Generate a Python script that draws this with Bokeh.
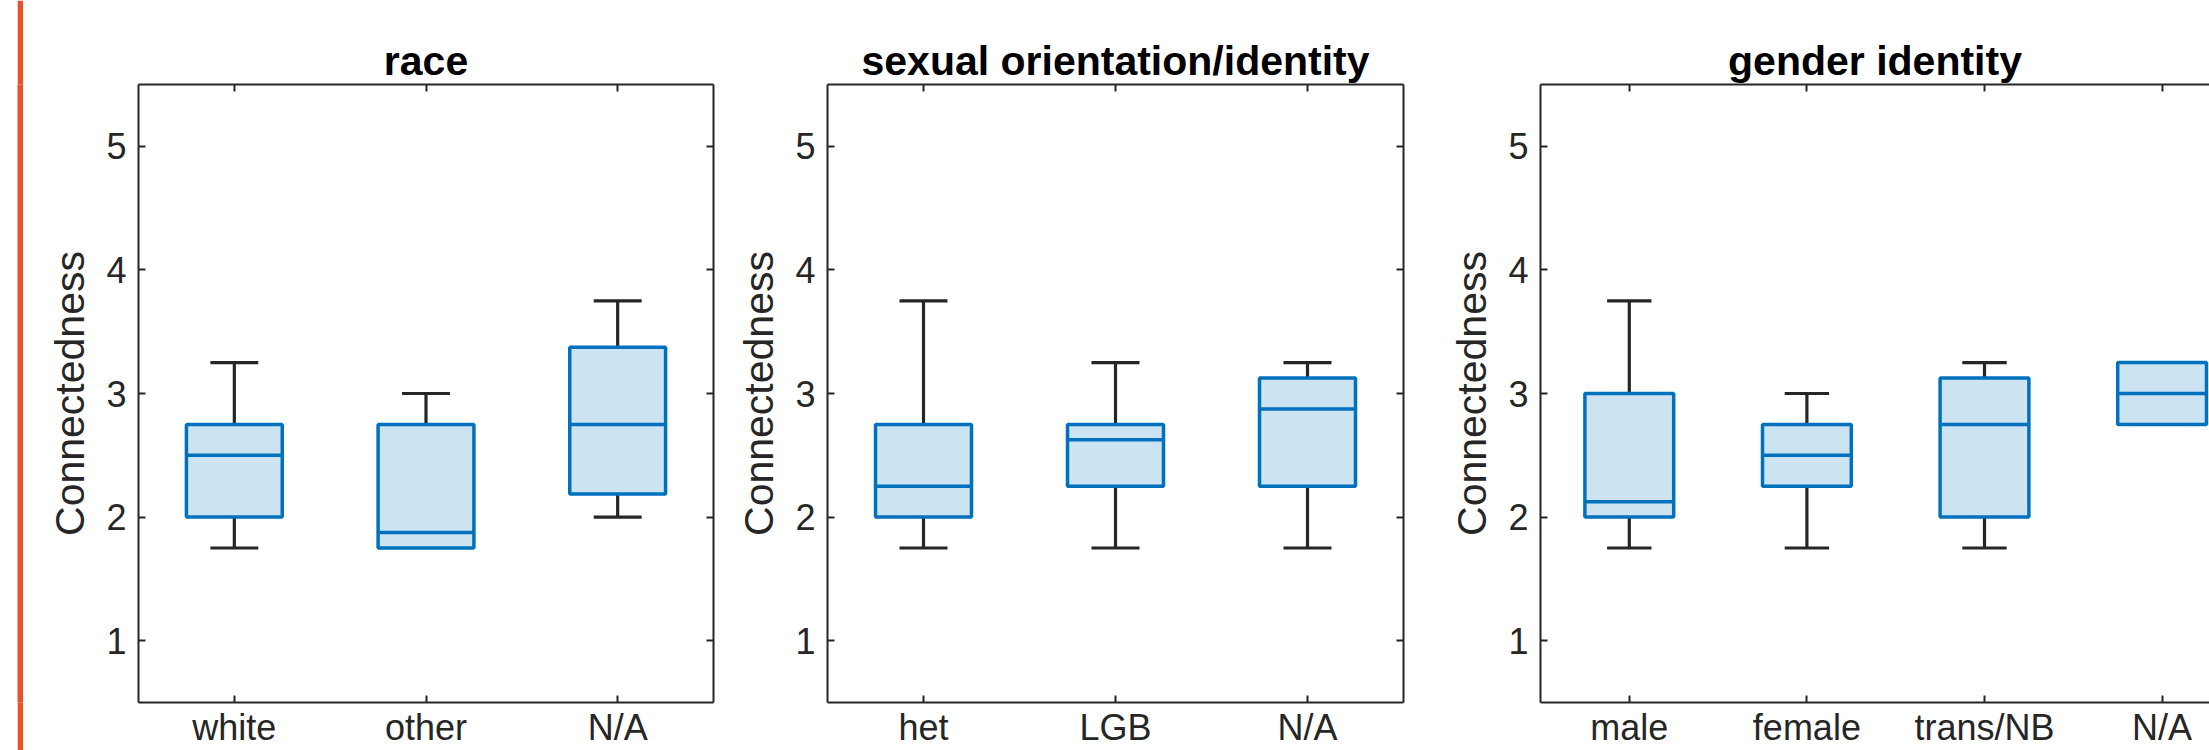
from bokeh.plotting import figure
from bokeh.models import FixedTicker, LinearAxis, Range1d, Spacer
from bokeh.layouts import row
from bokeh.embed import file_html
from bokeh.resources import INLINE

# ---------------- data ----------------
titles = ["race", "sexual orientation/identity", "gender identity"]
y_label = "Connectedness"
y_ticks = [1, 2, 3, 4, 5]

race_cats = ["white", "other", "N/A"]
race_wlo = [1.75, 1.75, 2.0]
race_q1 = [2.0, 1.75, 2.1875]
race_med = [2.5, 1.875, 2.75]
race_q3 = [2.75, 2.75, 3.375]
race_whi = [3.25, 3.0, 3.75]

sex_cats = ["het", "LGB", "N/A"]
sex_wlo = [1.75, 1.75, 1.75]
sex_q1 = [2.0, 2.25, 2.25]
sex_med = [2.25, 2.625, 2.875]
sex_q3 = [2.75, 2.75, 3.125]
sex_whi = [3.75, 3.25, 3.25]

gen_cats = ["male", "female", "trans/NB", "N/A"]
gen_wlo = [1.75, 1.75, 1.75, 2.75]
gen_q1 = [2.0, 2.25, 2.0, 2.75]
gen_med = [2.125, 2.5, 2.75, 3.0]
gen_q3 = [3.0, 2.75, 3.125, 3.25]
gen_whi = [3.75, 3.0, 3.25, 3.25]

# ---------------- style ----------------
FONT = "Liberation Sans"
AX = "#262626"
BOX_EDGE = "#0072BD"
BOX_FILL = "#CCE3F2"
BOX_W = 0.5
CAP_W = 0.25
H = 750


def style_axis(ax, show_labels):
    ax.axis_line_color = AX
    ax.axis_line_width = 2
    ax.major_tick_line_color = AX
    ax.major_tick_line_width = 2
    ax.major_tick_in = 7
    ax.major_tick_out = 0
    ax.minor_tick_line_color = None
    if not show_labels:
        ax.major_label_text_font_size = "0px"
        ax.major_label_standoff = 0


def panel(title, cats, wlo, q1, med, q3, whi, width, left, right, x_end, right_axis=True):
    n = len(cats)
    xs = [i + 1 for i in range(n)]
    p = figure(width=width, height=H, x_range=Range1d(0.5, x_end), y_range=Range1d(0.5, 5.5),
               toolbar_location=None, output_backend="svg",
               min_border_left=left, min_border_right=right, min_border_top=84, min_border_bottom=46)
    p.grid.visible = False
    p.outline_line_color = None
    p.background_fill_color = "white"
    p.border_fill_color = "white"

    # whiskers
    p.segment(x0=xs, y0=q3, x1=xs, y1=whi, line_color=AX, line_width=3.2)
    p.segment(x0=xs, y0=wlo, x1=xs, y1=q1, line_color=AX, line_width=3.2)
    cx = [x for x, a, b in zip(xs, whi, q3) if a > b]
    cy = [a for a, b in zip(whi, q3) if a > b]
    p.segment(x0=[x - CAP_W / 2 for x in cx], y0=cy, x1=[x + CAP_W / 2 for x in cx], y1=cy,
              line_color=AX, line_width=3.2)
    cx = [x for x, a, b in zip(xs, wlo, q1) if a < b]
    cy = [a for a, b in zip(wlo, q1) if a < b]
    p.segment(x0=[x - CAP_W / 2 for x in cx], y0=cy, x1=[x + CAP_W / 2 for x in cx], y1=cy,
              line_color=AX, line_width=3.2)
    # boxes
    p.vbar(x=xs, width=BOX_W, bottom=q1, top=q3, fill_color=BOX_FILL, line_color=BOX_EDGE, line_width=3.5)
    # medians
    p.segment(x0=[x - BOX_W / 2 for x in xs], y0=med, x1=[x + BOX_W / 2 for x in xs], y1=med,
              line_color=BOX_EDGE, line_width=3.5)

    # bottom axis
    xa = p.xaxis[0]
    xa.ticker = FixedTicker(ticks=xs)
    xa.major_label_overrides = {x: c for x, c in zip(xs, cats)}
    style_axis(xa, True)
    xa.major_label_text_font = FONT
    xa.major_label_text_font_size = "36px"
    xa.major_label_text_color = AX
    xa.major_label_standoff = 4

    # left axis
    ya = p.yaxis[0]
    ya.ticker = FixedTicker(ticks=y_ticks)
    style_axis(ya, True)
    ya.major_label_text_font = FONT
    ya.major_label_text_font_size = "36px"
    ya.major_label_text_color = AX
    ya.major_label_standoff = 12
    ya.axis_label = y_label
    ya.axis_label_text_font = FONT
    ya.axis_label_text_font_size = "41px"
    ya.axis_label_text_font_style = "normal"
    ya.axis_label_text_color = AX
    ya.axis_label_standoff = 10

    # mirrored axes (box)
    top = LinearAxis(ticker=FixedTicker(ticks=xs))
    top.major_label_overrides = {x: "" for x in xs}
    style_axis(top, False)
    p.add_layout(top, "above")
    if right_axis:
        ra = LinearAxis(ticker=FixedTicker(ticks=y_ticks))
        ra.major_label_overrides = {y: "" for y in y_ticks}
        style_axis(ra, False)
        p.add_layout(ra, "right")

    p.title.text = title
    p.title.align = "center"
    p.title.text_font = FONT
    p.title.text_font_size = "41px"
    p.title.text_font_style = "bold"
    p.title.text_color = "black"
    p.title.standoff = 2
    return p


p1 = panel(titles[0], race_cats, race_wlo, race_q1, race_med, race_q3, race_whi,
           width=707, left=115, right=17, x_end=3.5)
p2 = panel(titles[1], sex_cats, sex_wlo, sex_q1, sex_med, sex_q3, sex_whi,
           width=713, left=97, right=40, x_end=3.5)
p3 = panel(titles[2], gen_cats, gen_wlo, gen_q1, gen_med, gen_q3, gen_whi,
           width=766, left=97, right=0, x_end=0.5 + 669 / 177.6, right_axis=False)

strip = figure(width=6, height=H, toolbar_location=None, output_backend="svg",
               x_axis_type=None, y_axis_type=None, min_border=0,
               outline_line_color=None, background_fill_color="#E8522A", border_fill_color="#E8522A")
strip.grid.visible = False

layout = row(Spacer(width=17, height=H), strip, p1, p2, p3)

open("out.html", "w").write(file_html(layout, INLINE))
